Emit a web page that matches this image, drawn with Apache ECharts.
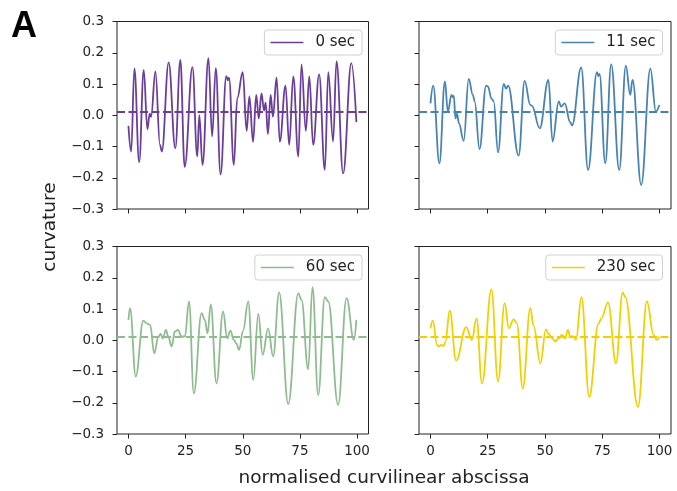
<!DOCTYPE html>
<html><head><meta charset="utf-8">
<script src="https://cdn.jsdelivr.net/npm/echarts@6/dist/echarts.min.js"></script>
<style>html,body{margin:0;padding:0;background:#fff}#c{width:677px;height:491px}</style>
</head><body><div id="c"></div>
<script>
const seriesNames = ['0 sec', '11 sec', '60 sec', '230 sec'];
const xTicks = [0, 25, 50, 75, 100];
const yTicks = [-0.3, -0.2, -0.1, 0.0, 0.1, 0.2, 0.3];
const meanCurvature = [0.011, 0.011, 0.011, 0.011];

const s0x = [0, 1.2, 2.6, 4.7, 6.7, 8.3, 9.3, 9.9, 11.8, 13.8, 14.6, 17.6, 20.5, 22.7, 24.6, 28.0, 30.1, 31.0, 32.4, 35.0, 36.6, 38.2, 40.3, 42.8, 43.5, 44.0, 46.1, 47.6, 50.0, 51.7, 52.9, 54.5, 55.9, 57.0, 58.2, 59.3, 60.0, 61.0, 62.2, 63.2, 64.8, 66.2, 68.7, 70.3, 72.1, 74.3, 75.7, 77.6, 79.1, 80.8, 83.4, 85.9, 87.4, 89.5, 91.0, 93.9, 97.5, 99.7];
const s0y = [-0.034, -0.116, 0.150, -0.150, 0.145, -0.045, 0.005, -0.005, 0.140, -0.095, -0.116, 0.169, -0.106, 0.177, -0.165, 0.154, -0.132, 0.000, -0.159, 0.183, -0.068, 0.151, -0.189, 0.125, 0.112, 0.120, -0.159, 0.055, 0.138, -0.050, 0.060, -0.085, 0.065, -0.010, 0.070, 0.015, 0.040, -0.060, 0.065, -0.005, 0.120, -0.085, 0.095, -0.095, 0.124, -0.132, 0.163, -0.050, 0.124, -0.095, 0.131, -0.175, 0.138, -0.084, 0.172, -0.186, 0.167, -0.022];

const s1x = [0, 1.2, 3.9, 6.3, 7.6, 9.2, 9.7, 10.2, 10.9, 11.6, 12.4, 14.5, 16.7, 18.5, 19.3, 21.4, 24.3, 25.1, 26.6, 27.6, 29.5, 32.0, 33.0, 33.9, 38.5, 41.1, 43.6, 44.3, 47.7, 51.5, 53.3, 56.0, 57.0, 58.6, 61.0, 61.8, 65.8, 68.8, 72.7, 73.3, 73.8, 76.3, 78.9, 82.4, 85.3, 87.2, 88.2, 92.0, 96.0, 98.4, 99.9];
const s1y = [0.038, 0.095, -0.154, 0.108, 0.012, 0.065, 0.058, 0.062, -0.010, 0.005, -0.025, -0.082, 0.116, 0.065, 0.044, -0.108, 0.095, 0.092, 0.054, 0.044, -0.119, 0.100, 0.085, 0.095, -0.129, 0.110, 0.033, 0.030, -0.042, 0.113, -0.084, 0.044, 0.028, 0.038, -0.022, -0.033, 0.153, -0.175, 0.138, 0.125, 0.132, -0.154, 0.163, -0.175, 0.159, 0.065, 0.113, -0.223, 0.149, 0.012, 0.033];

const s2x = [0, 0.7, 3.2, 6.5, 8.0, 9.5, 11.3, 13.1, 14.1, 15.0, 16.4, 17.4, 18.9, 20.3, 21.7, 23.2, 24.7, 26.5, 28.6, 32.0, 33.4, 34.6, 36.0, 38.5, 41.4, 43.2, 44.6, 46.1, 47.2, 48.4, 50.1, 52.4, 54.6, 56.8, 58.7, 61.1, 63.3, 65.9, 69.9, 74.3, 75.7, 78.6, 80.5, 83.0, 85.9, 87.4, 91.7, 95.4, 98.6, 99.7];
const s2y = [0.065, 0.103, -0.116, 0.063, 0.054, 0.049, -0.042, 0.012, 0.020, 0.006, 0.033, 0.012, -0.020, 0.028, 0.033, 0.012, 0.012, 0.124, -0.170, 0.087, 0.065, 0.022, 0.115, -0.138, 0.092, 0.006, 0.031, 0.001, -0.010, -0.031, 0.030, 0.124, -0.127, 0.084, -0.047, 0.038, -0.052, 0.153, -0.204, 0.150, 0.129, -0.093, 0.170, -0.175, 0.138, 0.124, -0.207, 0.135, 0.001, 0.065];

const s3x = [0, 1.0, 2.9, 3.6, 4.8, 5.8, 6.5, 8.4, 11.2, 15.6, 18.1, 20.1, 22.5, 26.6, 29.5, 32.4, 34.2, 36.3, 37.7, 40.3, 43.6, 45.0, 48.0, 50.4, 51.6, 53.2, 54.6, 55.2, 56.0, 57.4, 58.8, 60.0, 61.0, 62.5, 63.5, 65.9, 69.3, 73.4, 74.6, 77.5, 81.0, 83.9, 85.0, 90.6, 94.5, 97.4, 98.8, 99.9];
const s3y = [0.038, 0.063, -0.015, -0.020, -0.015, -0.018, -0.005, 0.095, -0.065, 0.042, 0.001, 0.070, -0.138, 0.163, -0.132, 0.119, 0.038, 0.067, 0.055, -0.154, 0.103, 0.046, -0.074, 0.035, 0.020, 0.006, -0.004, 0.001, 0.006, 0.017, 0.006, 0.033, 0.012, 0.012, 0.001, 0.138, -0.181, 0.054, 0.070, 0.121, -0.074, 0.153, 0.138, -0.213, 0.124, 0.017, 0.001, 0.012];

const xs = [s0x, s1x, s2x, s3x];
const ys = [s0y, s1y, s2y, s3y];
const colors = ['#6a3d9a', '#4682b4', '#8fbc8f', '#f2d000'];
const TXT = '#222';
const FONT = 'DejaVu Sans';

const grids = [
  {left: 117, top: 21.5, width: 251.5, height: 187.5},
  {left: 419, top: 21.5, width: 252, height: 187.5},
  {left: 117, top: 246.5, width: 251.5, height: 187.5},
  {left: 419, top: 246.5, width: 252, height: 187.5}
];
const legendPos = [
  {right: 315, top: 30}, {right: 14.5, top: 30},
  {right: 315, top: 255}, {right: 14.5, top: 255}
];

function fmtY(v) {
  const s = Math.abs(v).toFixed(1);
  return (v < -1e-9 ? '\u2212' : '') + s;
}

const option = {
  animation: false,
  textStyle: {fontFamily: FONT},
  grid: grids.map(g => Object.assign({show: true, borderColor: TXT, borderWidth: 1, backgroundColor: 'transparent', containLabel: false, outerBoundsMode: 'none'}, g)),
  xAxis: grids.map((g, i) => ({
    type: 'value', gridIndex: i, min: -5, max: 105, position: 'bottom',
    axisLine: {show: false, onZero: false},
    splitLine: {show: false},
    axisTick: {show: true, customValues: xTicks, length: 4.5, lineStyle: {color: TXT, width: 1}},
    axisLabel: {show: i >= 2, customValues: xTicks, fontSize: 13.5, color: TXT, margin: 10, fontFamily: FONT}
  })),
  yAxis: grids.map((g, i) => ({
    type: 'value', gridIndex: i, min: -0.3, max: 0.3, position: 'left',
    axisLine: {show: false, onZero: false},
    splitLine: {show: false},
    axisTick: {show: true, customValues: yTicks, length: 4.5, lineStyle: {color: TXT, width: 1}},
    axisLabel: {show: i % 2 === 0, customValues: yTicks, fontSize: 13.5, color: TXT, margin: 13, fontFamily: FONT, formatter: fmtY}
  })),
  legend: seriesNames.map((n, i) => Object.assign({
    data: [n], selectedMode: false, icon: 'rect',
    backgroundColor: '#fff', borderColor: '#d0d0d0', borderWidth: 1, borderRadius: 3,
    padding: [5, 7, 5, 6], itemWidth: 33, itemHeight: 1.7,
    textStyle: {fontSize: 15, color: TXT, fontFamily: FONT, padding: [0, 0, 0, 7]}
  }, legendPos[i])),
  series: seriesNames.map((n, i) => ({
    name: n, type: 'line', xAxisIndex: i, yAxisIndex: i,
    data: xs[i].map((x, k) => [x, ys[i][k]]),
    smooth: 0.4, smoothMonotone: 'x', symbol: 'none',
    color: colors[i],
    lineStyle: {width: 1.8, color: colors[i]},
    markLine: {
      silent: true, symbol: 'none', label: {show: false},
      lineStyle: {type: [8, 3.5], width: 1.8, color: colors[i]},
      data: [{yAxis: meanCurvature[i]}]
    }
  })),
  graphic: [
    {type: 'text', left: 11, top: 9, style: {text: 'A', font: 'bold 36px "Liberation Sans"', fill: '#000'}},
    {type: 'text', x: 50, y: 227, rotation: Math.PI / 2, style: {text: 'curvature', font: '18.5px "DejaVu Sans"', fill: TXT, textAlign: 'center', textVerticalAlign: 'middle'}},
    {type: 'text', x: 384, y: 478, style: {text: 'normalised curvilinear abscissa', font: '18.5px "DejaVu Sans"', fill: TXT, textAlign: 'center', textVerticalAlign: 'middle'}}
  ]
};
const chart = echarts.init(document.getElementById('c'), null, {renderer: 'canvas'});
chart.setOption(option);
</script>
</body></html>
